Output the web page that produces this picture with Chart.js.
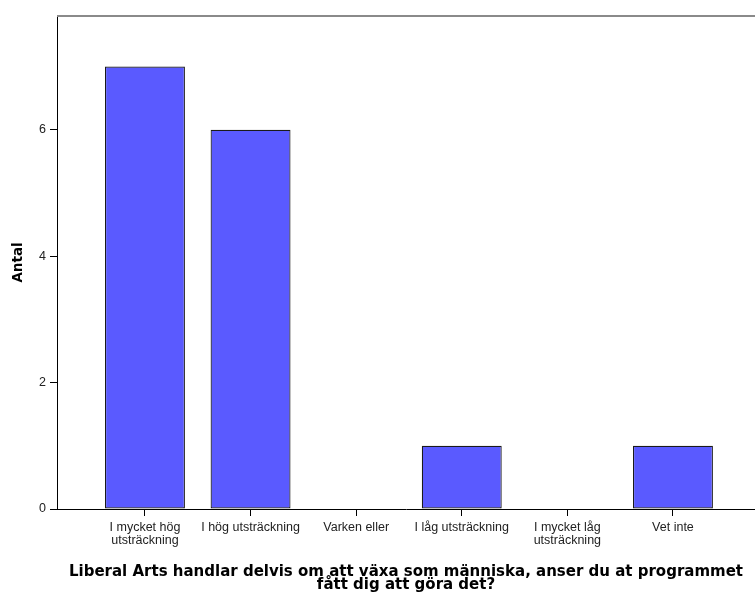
<!DOCTYPE html>
<html>
<head>
<meta charset="utf-8">
<script src="https://cdn.jsdelivr.net/npm/chart.js@4/dist/chart.umd.min.js"></script>
<style>
  html, body { margin: 0; padding: 0; background: #fff; }
  #wrap { width: 755px; height: 595px; }
</style>
</head>
<body>
<div id="wrap"><canvas id="barCanvas" width="755" height="595"></canvas></div>
<script>
// answers on the x axis
const categories = [
  ['I mycket hög', 'utsträckning'],
  'I hög utsträckning',
  'Varken eller',
  'I låg utsträckning',
  ['I mycket låg', 'utsträckning'],
  'Vet inte'
]
const counts = [7, 6, 0, 1, 0, 1]
const yTicks = [0, 2, 4, 6]

const xTitle = ['Liberal Arts handlar delvis om att växa som människa, anser du at programmet', 'fått dig att göra det?']
const yTitle = 'Antal'

let points = counts.map((v, i) => ({ x: i, y: v }))

// grey frame line along the top of the plot
let topLine = {
  id: 'topLine',
  afterDraw(chart) {
    let ctx = chart.ctx
    let a = chart.chartArea
    ctx.save()
    ctx.strokeStyle = '#8a8a8a'
    ctx.lineWidth = 2
    ctx.beginPath()
    ctx.moveTo(a.left, a.top)
    ctx.lineTo(a.right, a.top)
    ctx.stroke()
    ctx.restore()
  }
}

let barCanvas = document.getElementById('barCanvas').getContext('2d')

let barChart = new Chart(barCanvas, {
  type: 'bar',
  data: {
    datasets: [{
      data: points,
      backgroundColor: '#5a5aff',
      borderColor: '#1a1a1a',
      borderWidth: 1.2,
      borderSkipped: false,
      barPercentage: 1,
      categoryPercentage: 0.757
    }]
  },
  plugins: [topLine],
  options: {
    responsive: false,
    animation: false,
    layout: { padding: { top: 16, right: 0, left: 0, bottom: 0 } },
    plugins: {
      legend: { display: false },
      tooltip: { enabled: false }
    },
    scales: {
      x: {
        type: 'linear',
        offset: false,
        min: -0.833,
        max: 5.777,
        afterBuildTicks: scale => {
          scale.ticks = categories.map((c, i) => ({ value: i }))
        },
        afterFit: scale => { scale.height = 86 },
        grid: { offset: false, drawOnChartArea: false, tickLength: 7, color: '#000', tickWidth: 1 },
        border: { color: '#000', width: 1 },
        ticks: {
          autoSkip: false,
          maxRotation: 0,
          padding: 5,
          color: '#222',
          font: { family: 'Liberation Sans', size: 12.5, lineHeight: 1.05 },
          callback: value => categories[value]
        },
        title: {
          display: true,
          text: xTitle,
          color: '#000',
          font: { family: 'DejaVu Sans', size: 15, weight: 'bold', lineHeight: 0.85 },
          padding: { top: 0, bottom: 4 }
        }
      },
      y: {
        min: 0,
        max: 7.8,
        afterBuildTicks: scale => {
          scale.ticks = yTicks.map(v => ({ value: v }))
        },
        afterFit: scale => { scale.width = 57 },
        grid: { drawOnChartArea: false, tickLength: 7, color: '#000', tickWidth: 1 },
        border: { color: '#000', width: 1 },
        ticks: {
          padding: 4,
          color: '#222',
          font: { family: 'Liberation Sans', size: 12.5 }
        },
        title: {
          display: true,
          text: yTitle,
          color: '#000',
          font: { family: 'DejaVu Sans', size: 13.5, weight: 'bold' },
          padding: { top: 10, bottom: 0 }
        }
      }
    }
  }
})
</script>
</body>
</html>
